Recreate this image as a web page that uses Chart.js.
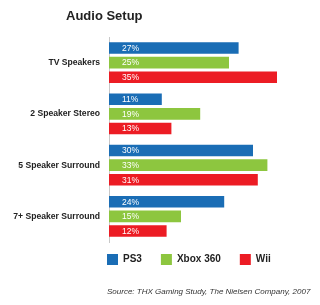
<!DOCTYPE html>
<html>
<head>
<meta charset="utf-8">
<script src="https://cdn.jsdelivr.net/npm/chart.js@4"></script>
<style>
  html, body { margin: 0; padding: 0; background: #fff; }
  #wrap { width: 320px; height: 305px; }
</style>
</head>
<body>
<div id="wrap"><canvas id="audioChart" width="320" height="305"></canvas></div>
<script>
const categories = ["TV Speakers", "2 Speaker Stereo", "5 Speaker Surround", "7+ Speaker Surround"];
const ps3 = [27, 11, 30, 24];
const xbox360 = [25, 19, 33, 15];
const wii = [35, 13, 31, 12];
const seriesNames = ["PS3", "Xbox 360", "Wii"];
const chartTitle = "Audio Setup";
const sourceNote = "Source: THX Gaming Study, The Nielsen Company, 2007";

// title, source line and legend placement
const decor = {
    id: "decor",
    afterLayout(chart) {
        const lg = chart.legend;
        const pad = lg.options.labels.padding;
        const w = lg.width;
        lg.left = 107 - pad;
        lg.right = lg.left + w;
        lg.top = 254 - pad;
    },
    afterDraw(chart) {
        const ctx = chart.ctx;
        ctx.save();
        ctx.fillStyle = "#222";
        ctx.textAlign = "left";
        ctx.textBaseline = "alphabetic";
        ctx.font = "bold 13px 'Liberation Sans', Arial, sans-serif";
        ctx.fillText(chartTitle, 66, 20);
        ctx.fillStyle = "#333";
        ctx.font = "italic 8px 'Liberation Sans', Arial, sans-serif";
        ctx.fillText(sourceNote, 107, 294);
        ctx.restore();
    }
};

// white percentage labels inside the bars
const barLabels = {
    id: "barLabels",
    afterDatasetsDraw(chart) {
        const ctx = chart.ctx;
        const x0 = chart.scales.x.getPixelForValue(0);
        ctx.save();
        ctx.fillStyle = "#fff";
        ctx.font = "8.5px 'Liberation Sans', Arial, sans-serif";
        ctx.textAlign = "left";
        ctx.textBaseline = "middle";
        chart.data.datasets.forEach((ds, i) => {
            chart.getDatasetMeta(i).data.forEach((bar, j) => {
                ctx.fillText(ds.data[j] + "%", x0 + 13, bar.y + 0.5);
            });
        });
        ctx.restore();
    }
};

new Chart(document.getElementById("audioChart"), {
    type: "bar",
    data: {
        labels: categories,
        datasets: [
            { label: seriesNames[0], data: ps3, backgroundColor: "#1a6db5" },
            { label: seriesNames[1], data: xbox360, backgroundColor: "#8dc63f" },
            { label: seriesNames[2], data: wii, backgroundColor: "#ec1c24" }
        ]
    },
    options: {
        indexAxis: "y",
        responsive: false,
        animation: false,
        categoryPercentage: 0.853,
        barPercentage: 0.79,
        layout: { padding: { left: 0, right: 19, top: 37, bottom: 23 } },
        scales: {
            x: { display: false, min: 0, max: 40 },
            y: {
                grid: { display: false },
                border: { display: true, color: "#c8c8c8", width: 1 },
                ticks: {
                    color: "#222",
                    padding: 1,
                    font: { family: "'Liberation Sans', Arial, sans-serif", size: 8.6, weight: "bold" }
                },
                afterFit(scale) { scale.width = 109; }
            }
        },
        plugins: {
            title: { display: false },
            tooltip: { enabled: false },
            legend: {
                position: "bottom",
                align: "start",
                labels: {
                    boxWidth: 11,
                    boxHeight: 11,
                    padding: 19,
                    color: "#222",
                    font: { family: "'Liberation Sans', Arial, sans-serif", size: 10, weight: "bold" }
                }
            }
        }
    },
    plugins: [decor, barLabels]
});
</script>
</body>
</html>
